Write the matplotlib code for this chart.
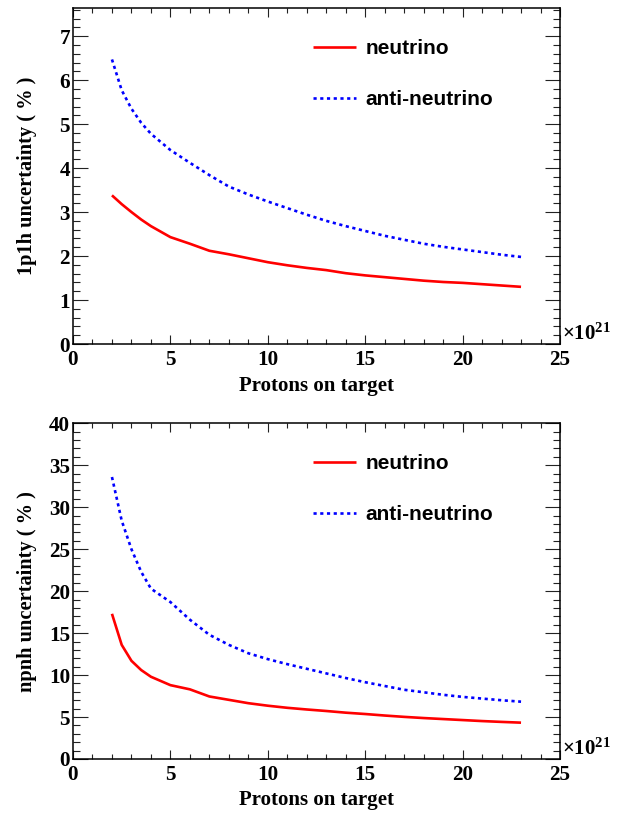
import matplotlib
matplotlib.use("Agg")
import matplotlib.pyplot as plt
from matplotlib.ticker import MultipleLocator

# Protons on target (units of 1e21)
pot = [2, 2.5, 3, 3.5, 4, 5, 6, 7, 8, 9, 10, 11, 12, 13, 14, 15, 16, 17, 18, 19, 20, 21, 22, 23]

# 1p1h uncertainty (%)
nu_1p1h = [3.38, 3.18, 3.00, 2.83, 2.68, 2.43, 2.28, 2.12, 2.04, 1.95, 1.86, 1.79,
           1.73, 1.68, 1.61, 1.56, 1.52, 1.48, 1.44, 1.41, 1.39, 1.36, 1.33, 1.30]
anu_1p1h = [6.47, 5.77, 5.35, 5.03, 4.78, 4.41, 4.12, 3.84, 3.58, 3.40, 3.24, 3.09,
            2.94, 2.80, 2.68, 2.57, 2.46, 2.37, 2.28, 2.21, 2.15, 2.09, 2.03, 1.98]

# npnh uncertainty (%)
nu_npnh = [17.3, 13.6, 11.7, 10.6, 9.8, 8.8, 8.3, 7.45, 7.05, 6.65, 6.35, 6.1,
           5.9, 5.72, 5.52, 5.36, 5.18, 5.02, 4.88, 4.76, 4.64, 4.52, 4.42, 4.33]
anu_npnh = [33.6, 28.4, 25.0, 22.3, 20.3, 18.7, 16.6, 14.8, 13.6, 12.6, 11.9, 11.3,
            10.75, 10.2, 9.65, 9.15, 8.7, 8.25, 7.95, 7.65, 7.4, 7.2, 7.0, 6.83]

series_labels = ["neutrino", "anti-neutrino"]
xlabel = "Protons on target"
ylabels = ["1p1h uncertainty ( % )", "npnh uncertainty ( % )"]

plt.rcParams["mathtext.fontset"] = "custom"
plt.rcParams["mathtext.rm"] = "Liberation Serif:bold"
plt.rcParams["mathtext.default"] = "rm"

SERIF = "Liberation Serif"
SANS = "Liberation Sans"

W, H = 626, 817
fig = plt.figure(figsize=(W / 100, H / 100), dpi=100)


def px_axes(left, top, right, bottom):
    return fig.add_axes([left / W, 1 - bottom / H, (right - left) / W, (bottom - top) / H])


panels = [
    dict(box=(73, 8, 560, 344), nu=nu_1p1h, anu=anu_1p1h, ymax=7.64,
         major=1, minor=0.2, ylabel=ylabels[0], xlab_y=386),
    dict(box=(73, 423.3, 560, 759), nu=nu_npnh, anu=anu_npnh, ymax=40,
         major=5, minor=1, ylabel=ylabels[1], xlab_y=800),
]

for p in panels:
    ax = px_axes(*p["box"])
    ax.plot(pot, p["nu"], color="#ff0000", lw=1.9, solid_capstyle="butt",
            label=series_labels[0])
    ax.plot(pot, p["anu"], color="#0000ff", lw=1.9, linestyle=(0, (1.2, 1.35)),
            label=series_labels[1])

    ax.set_xlim(0, 25)
    ax.set_ylim(0, p["ymax"])
    ax.xaxis.set_major_locator(MultipleLocator(5))
    ax.xaxis.set_minor_locator(MultipleLocator(1))
    ax.yaxis.set_major_locator(MultipleLocator(p["major"]))
    ax.yaxis.set_minor_locator(MultipleLocator(p["minor"]))

    for s in ax.spines.values():
        s.set_linewidth(1.1)
    ax.tick_params(axis="both", which="both", direction="in", top=True, right=True,
                   width=0.8, colors="#222222", labelcolor="black")
    ax.tick_params(axis="x", which="major", length=6.5, pad=4.5)
    ax.tick_params(axis="x", which="minor", length=3.6)
    ax.tick_params(axis="y", which="major", length=10.5, pad=2.2)
    ax.tick_params(axis="y", which="minor", length=5.0)
    for lab in ax.get_xticklabels() + ax.get_yticklabels():
        lab.set_fontfamily(SERIF)
        lab.set_fontweight("bold")
        lab.set_fontsize(15.2)

    leg = ax.legend(loc="upper left", bbox_to_anchor=(0.493, 0.908), frameon=False,
                    borderpad=0, borderaxespad=0, handlelength=2.07,
                    handletextpad=0.45, labelspacing=1.55,
                    prop=dict(family=SANS, weight="bold", size=15))

    ax.text(1.004, 0.0, r"$\times10^{21}$", transform=ax.transAxes,
            ha="left", va="bottom", fontsize=15)

    left, top, right, bottom = p["box"]
    fig.text(((left + right) / 2) / W, 1 - p["xlab_y"] / H, xlabel,
             ha="center", va="center", family=SERIF, weight="bold", fontsize=15)
    fig.text(27 / W, 1 - ((top + bottom) / 2) / H, p["ylabel"], rotation=90,
             ha="center", va="center", family=SERIF, weight="bold", fontsize=14.7)

fig.savefig("out.png", dpi=100)
